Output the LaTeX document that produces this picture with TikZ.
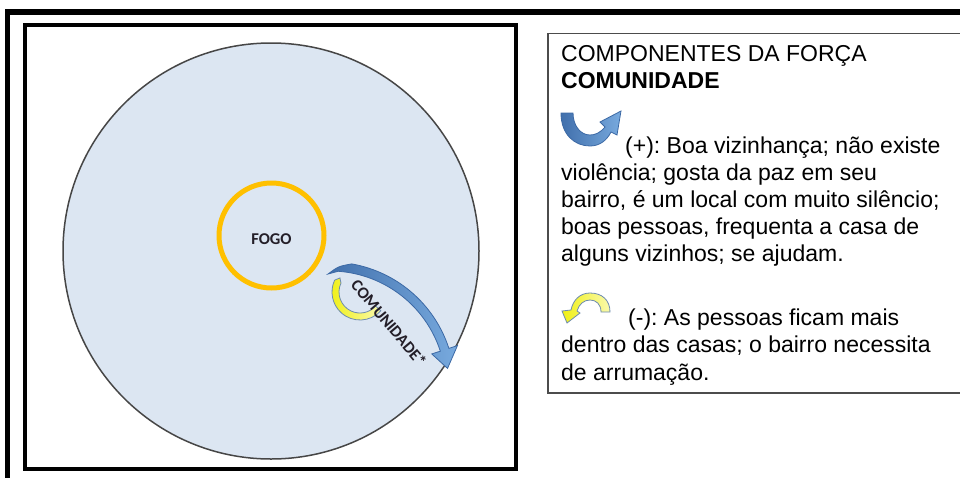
\documentclass[tikz,border=0pt]{standalone}
\usepackage{fontspec}
\setmainfont{Liberation Sans}
\newfontfamily\calibrifont{Carlito}
\usetikzlibrary{calc}
\frenchspacing
\definecolor{circfill}{RGB}{220,230,242}
\definecolor{circline}{RGB}{70,70,70}
\definecolor{fogogold}{RGB}{255,192,0}
\definecolor{arrowblue}{RGB}{84,138,200}
\definecolor{arrowbluelight}{RGB}{120,170,222}
\definecolor{arrowbluedark}{RGB}{60,105,165}
\definecolor{arrowyellow}{RGB}{240,240,20}
\definecolor{yellowedge}{RGB}{110,140,175}
\definecolor{labeldark}{RGB}{35,30,40}
\tikzset{
  frameline/.style={draw=black, line width=5.5pt},
  boxline/.style={draw=black, line width=3.5pt},
  legendbox/.style={draw=black!70, line width=1.1pt},
  bodytext/.style={anchor=base west, inner sep=0pt, align=left, font=\fontsize{23}{27.2}\selectfont\frenchspacing},
  bluearrow/.style={draw=arrowbluedark, line width=0.8pt, left color=arrowbluedark!80!arrowblue, right color=arrowbluelight},
  yellowarrow/.style={draw=yellowedge, line width=0.8pt, left color=arrowyellow, right color=arrowyellow!35},
  circlabel/.style={font=\calibrifont\bfseries\fontsize{16.5}{18}\selectfont, text=labeldark, inner sep=0pt},
}
\begin{document}
\begin{tikzpicture}[x=1pt,y=-1pt]
\useasboundingbox (0,0) rectangle (960,477);
\fill[white] (0,0) rectangle (960,477);
% outer frame
\draw[frameline] (7.5,490) -- (7.5,12) -- (990,12);
% left panel
\draw[boxline] (25,25) rectangle (516,469);
\node[circle, draw=circline, fill=circfill, line width=1.5pt, minimum size=416pt, inner sep=0pt] (world) at (271,251) {};
\node[circle, draw=fogogold, line width=5pt, minimum size=105pt, inner sep=0pt] (fogo) at (271.5,235.5) {};
\node[circlabel] (fogolabel) at (271.5,239) {FOGO};
% yellow arrow in circle
\coordinate (yc) at (360,292);
\shade[yellowarrow] ($(yc)+(318:28pt)$) arc[start angle=318, end angle=155, radius=28pt]
  -- ($(yc)+(145:24.5pt)$) -- ($(yc)+(155:21pt)$)
  arc[start angle=155, end angle=318, radius=21pt] -- cycle;
% blue arrow in circle
\coordinate (bc) at (330,387);
\shade[bluearrow] ($(bc)+(91:113pt)$) .. controls ($(bc)+(86:121pt)$) .. ($(bc)+(80:125pt)$)
  arc[start angle=80, end angle=18, radius=125pt]
  -- ($(bc)+(18:134pt)$) -- ($(bc)+(9:119pt)$) -- ($(bc)+(18:107pt)$) -- ($(bc)+(18:116pt)$)
  arc[start angle=18, end angle=86, radius=116pt] -- cycle;
\node[circlabel, rotate=-50] (comlabel) at (389,323) {COMUNIDADE*};
% legend
\draw[legendbox] (548,33.5) rectangle (990,393);
\node[bodytext, font=\fontsize{23}{26.6}\selectfont] (title) at (561,88.4) {COMPONENTES DA FORÇA\\\textbf{COMUNIDADE}};
\shade[bluearrow] (561,113) .. controls (561,135) and (575,146) .. (590,146)
  .. controls (600,146) and (607,140) .. (611,132) -- (617,135) -- (621,111) -- (600,122) -- (605,127)
  .. controls (600,133) and (595,135) .. (590,135) .. controls (580,135) and (573,125) .. (573,113) -- cycle;
\node[bodytext] (pos) at (561,261.8) {\hspace*{64pt}(+): Boa vizinhança; não existe\\violência; gosta da paz em seu\\bairro, é um local com muito silêncio;\\boas pessoas, frequenta a casa de\\alguns vizinhos; se ajudam.};
\shade[yellowarrow] (610,312) .. controls (610,300) and (602,293) .. (590,293)
  .. controls (580,293) and (573,300) .. (571,310) -- (562,311) -- (567,323) -- (580,313) -- (577,311)
  .. controls (579,304) and (584,300) .. (590,300) .. controls (596,300) and (601,304) .. (601,312) -- cycle;
\node[bodytext, font=\fontsize{23}{27.8}\selectfont\frenchspacing] (neg) at (561,380.6) {\hspace*{67pt}(-): As pessoas ficam mais\\dentro das casas; o bairro necessita\\de arrumação.};
\end{tikzpicture}
\end{document}
